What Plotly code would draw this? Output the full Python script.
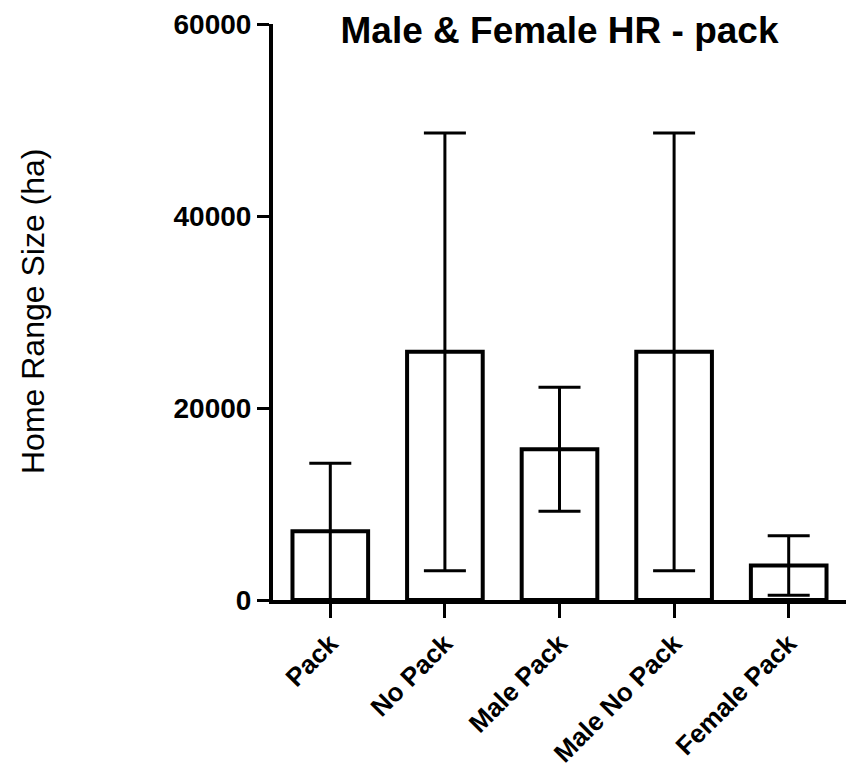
import plotly.graph_objects as go

categories = ["Pack", "No Pack", "Male Pack", "Male No Pack", "Female Pack"]
means = [7150, 25850, 15700, 25850, 3600]
errors = [7100, 22800, 6450, 22800, 3100]
y_ticks = [0, 20000, 40000, 60000]

FONT = "Liberation Sans, Arial, sans-serif"

fig = go.Figure()
fig.add_trace(go.Bar(
    x=categories,
    y=means,
    width=0.66,
    marker=dict(color="white", line=dict(color="black", width=4)),
    error_y=dict(type="data", array=errors, visible=True, color="black", thickness=3, width=21),
    showlegend=False,
))

fig.update_layout(
    width=846, height=770,
    margin=dict(l=273, r=0, t=24, b=170),
    paper_bgcolor="white", plot_bgcolor="white",
    title=dict(text="Male & Female HR - pack", x=0.5, xref="paper", xanchor="center",
               y=1 - 30 / 770, yref="container", yanchor="middle",
               font=dict(family=FONT, size=37, color="black", weight="bold")),
    font=dict(family=FONT, color="black"),
)
fig.update_xaxes(
    range=[-0.5, 4.5], showline=True, linewidth=4, linecolor="black",
    ticks="outside", ticklen=14, tickwidth=3, tickcolor="black",
    tickangle=-45, showgrid=False, zeroline=False, automargin=False,
    tickfont=dict(family=FONT, size=26, color="black", weight="bold"),
)
fig.update_yaxes(
    range=[0, 60000], tickvals=y_ticks, tickformat="d",
    showline=True, linewidth=4, linecolor="black",
    ticks="outside", ticklen=12, tickwidth=3, tickcolor="black",
    showgrid=False, zeroline=False, automargin=False,
    tickfont=dict(family=FONT, size=28, color="black", weight="bold"),
)
fig.add_annotation(
    text="Home Range Size (ha)", xref="paper", yref="paper",
    x=(33 - 273) / 573, y=0.5, xanchor="center", yanchor="middle",
    textangle=-90, showarrow=False,
    font=dict(family=FONT, size=32, color="black"),
)

fig.write_html("out.html")
